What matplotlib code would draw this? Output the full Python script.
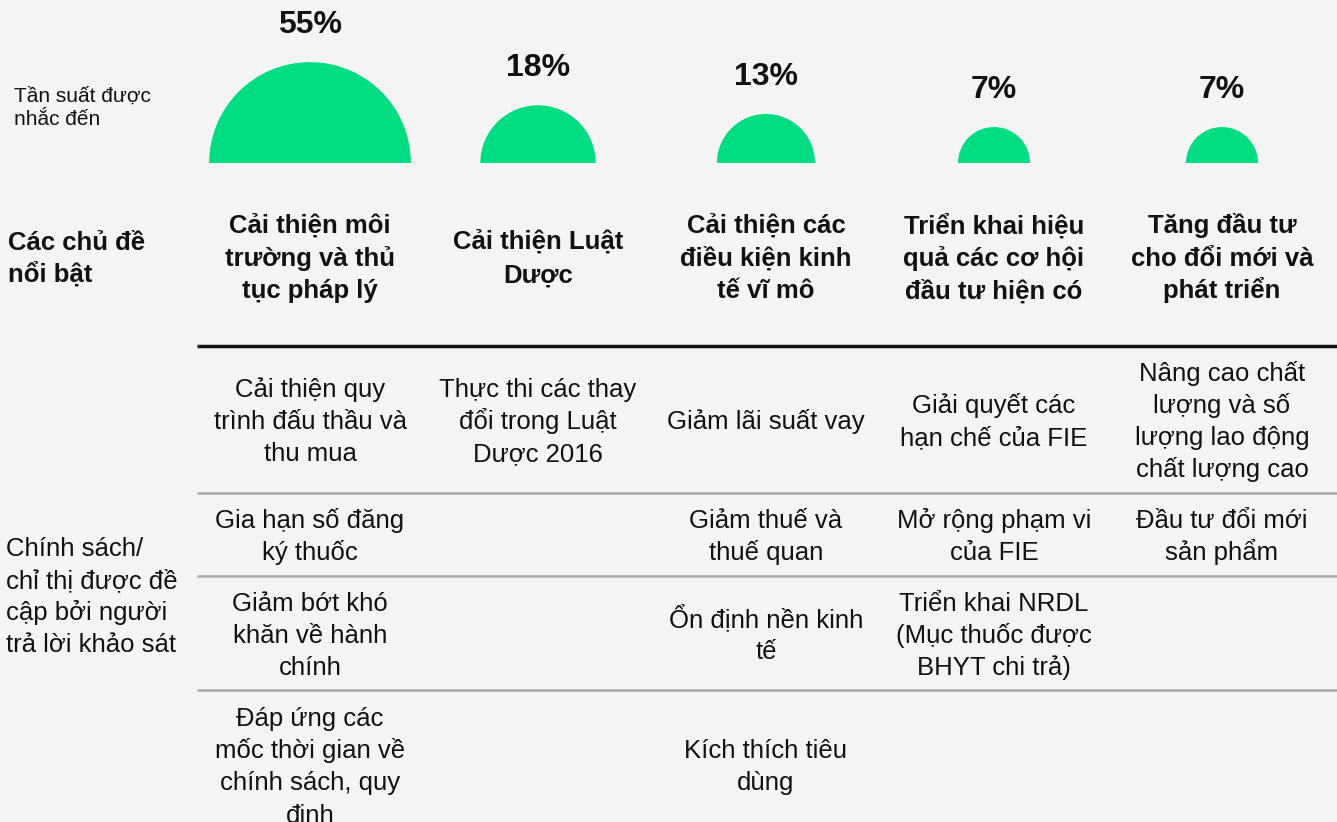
import numpy as np
from matplotlib import pyplot as plt
from matplotlib.patches import Wedge

plt.rcParams['font.family'] = ['Liberation Sans', 'DejaVu Sans']

themes = ["Cải thiện môi\ntrường và thủ\ntục pháp lý",
          "Cải thiện Luật\nDược",
          "Cải thiện các\nđiều kiện kinh\ntế vĩ mô",
          "Triển khai hiệu\nquả các cơ hội\nđầu tư hiện có",
          "Tăng đầu tư\ncho đổi mới và\nphát triển"]
shares = [55, 18, 13, 7, 7]

policies = [
    ["Cải thiện quy\ntrình đấu thầu và\nthu mua", "Gia hạn số đăng\nký thuốc",
     "Giảm bớt khó\nkhăn về hành\nchính", "Đáp ứng các\nmốc thời gian về\nchính sách, quy\nđịnh"],
    ["Thực thi các thay\nđổi trong Luật\nDược 2016", "", "", ""],
    ["Giảm lãi suất vay", "Giảm thuế và\nthuế quan", "Ổn định nền kinh\ntế", "Kích thích tiêu\ndùng"],
    ["Giải quyết các\nhạn chế của FIE", "Mở rộng phạm vi\ncủa FIE",
     "Triển khai NRDL\n(Mục thuốc được\nBHYT chi trả)", ""],
    ["Nâng cao chất\nlượng và số\nlượng lao động\nchất lượng cao", "Đầu tư đổi mới\nsản phẩm", "", ""],
]

green = "#00DC82"
bg = "#F4F4F4"
ink = "#111111"

fig = plt.figure(figsize=(13.37, 8.22), dpi=100, facecolor=bg)
ax = fig.add_axes([0, 0, 1, 1])
ax.set_facecolor(bg)
ax.set_xlim(0, 1337)
ax.set_ylim(822, 0)
ax.axis("off")


def block(x, y, txt, size, gap, ha="center", weight="normal"):
    # one text per line so the spacing stays even with stacked diacritics
    lines = txt.split("\n")
    n = len(lines)
    for i, line in enumerate(lines):
        yy = y + (i - (n - 1) / 2) * gap + size * 0.48
        ax.text(x, yy, line, ha=ha, va="baseline", fontsize=size,
                fontweight=weight, color=ink)


col_x = 310 + 228 * np.arange(len(themes))
base = 163
scale = 13.6  # radius per sqrt(percent), area ~ share

for cx, p in zip(col_x, shares):
    r = scale * np.sqrt(p)
    ax.add_patch(Wedge((cx, base), r, 180, 360, color=green, lw=0))
    block(cx, base - r - 40, f"{p}%", 23, 0, weight="bold")

block(14, 106, "Tần suất được\nnhắc đến", 15, 23, ha="left")
block(8, 257, "Các chủ đề\nnổi bật", 18.5, 32, ha="left", weight="bold")
block(6, 595, "Chính sách/\nchỉ thị được đề\ncập bởi người\ntrả lời khảo sát", 18.5, 32, ha="left")

for cx, t in zip(col_x, themes):
    block(cx, 257, t, 18.5, 32.5, weight="bold")

ax.plot([197, 1337], [346, 346], color="#111111", lw=2.5, solid_capstyle="butt")
for y in [493, 576, 690]:
    ax.plot([197, 1337], [y, y], color="#AAAAAA", lw=1.8, solid_capstyle="butt")

row_y = [420, 535, 634, 765]
for cx, col in zip(col_x, policies):
    for ry, txt in zip(row_y, col):
        if txt:
            block(cx, ry, txt, 18.5, 32)

fig.savefig("out.png", dpi=100, facecolor=bg)
